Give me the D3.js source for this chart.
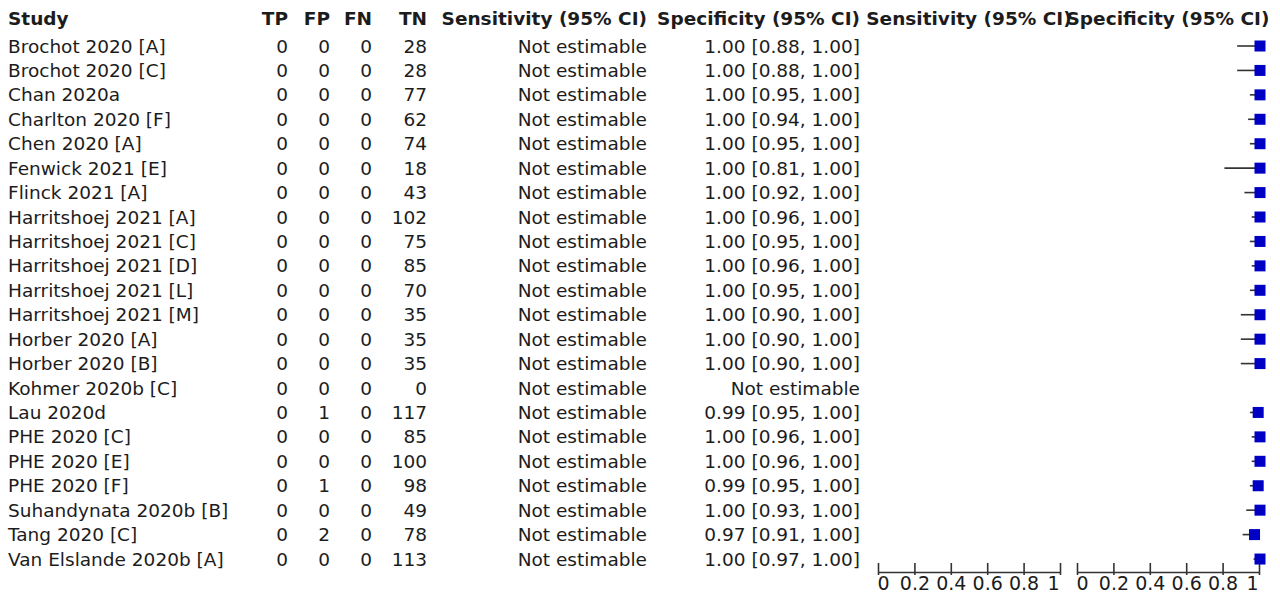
<!DOCTYPE html>
<html>
<head>
<meta charset="utf-8">
<script src="https://cdn.jsdelivr.net/npm/d3@7"></script>
<style>
  html, body { margin: 0; padding: 0; background: #fff; }
  svg { display: block; font-family: "DejaVu Sans", Verdana, sans-serif; }
</style>
</head>
<body>
<svg id="chart" width="1280" height="594"></svg>
<script>
const studies = ["Brochot 2020 [A]", "Brochot 2020 [C]", "Chan 2020a", "Charlton 2020 [F]", "Chen 2020 [A]",
  "Fenwick 2021 [E]", "Flinck 2021 [A]", "Harritshoej 2021 [A]", "Harritshoej 2021 [C]", "Harritshoej 2021 [D]",
  "Harritshoej 2021 [L]", "Harritshoej 2021 [M]", "Horber 2020 [A]", "Horber 2020 [B]", "Kohmer 2020b [C]",
  "Lau 2020d", "PHE 2020 [C]", "PHE 2020 [E]", "PHE 2020 [F]", "Suhandynata 2020b [B]", "Tang 2020 [C]",
  "Van Elslande 2020b [A]"];
const TP = [0,0,0,0,0,0,0,0,0,0,0,0,0,0,0,0,0,0,0,0,0,0];
const FP = [0,0,0,0,0,0,0,0,0,0,0,0,0,0,0,1,0,0,1,0,2,0];
const FN = [0,0,0,0,0,0,0,0,0,0,0,0,0,0,0,0,0,0,0,0,0,0];
const TN = [28,28,77,62,74,18,43,102,75,85,70,35,35,35,0,117,85,100,98,49,78,113];
const specEst = [1.00,1.00,1.00,1.00,1.00,1.00,1.00,1.00,1.00,1.00,1.00,1.00,1.00,1.00,null,0.99,1.00,1.00,0.99,1.00,0.97,1.00];
const specLo  = [0.88,0.88,0.95,0.94,0.95,0.81,0.92,0.96,0.95,0.96,0.95,0.90,0.90,0.90,null,0.95,0.96,0.96,0.95,0.93,0.91,0.97];
const specHi  = [1.00,1.00,1.00,1.00,1.00,1.00,1.00,1.00,1.00,1.00,1.00,1.00,1.00,1.00,null,1.00,1.00,1.00,1.00,1.00,1.00,1.00];
const sensEst = studies.map(() => null);
const tickValues = [0, 0.2, 0.4, 0.6, 0.8, 1];
const tickLabels = ["0", "0.2", "0.4", "0.6", "0.8", "1"];
const headers = ["Study", "TP", "FP", "FN", "TN", "Sensitivity (95% CI)", "Specificity (95% CI)"];
const plotHeaders = ["Sensitivity (95% CI)", "Specificity (95% CI)"];

const svg = d3.select("#chart");
const textColor = "#1c1c1c";
const fs = "18.5px";

const y = d3.scalePoint().domain(d3.range(studies.length)).range([46, 46 + 24.43 * (studies.length - 1)]);
const baseOff = 6.6;

const cols = [
  {x: 8, anchor: "start", get: i => studies[i]},
  {x: 288, anchor: "end", get: i => TP[i]},
  {x: 330, anchor: "end", get: i => FP[i]},
  {x: 372, anchor: "end", get: i => FN[i]},
  {x: 427, anchor: "end", get: i => TN[i]},
  {x: 647, anchor: "end", get: i => sensEst[i] == null ? "Not estimable" : sensEst[i].toFixed(2)},
  {x: 860, anchor: "end", get: i => specEst[i] == null ? "Not estimable" :
      `${specEst[i].toFixed(2)} [${specLo[i].toFixed(2)}, ${specHi[i].toFixed(2)}]`}
];

const headerY = 25;
svg.append("g").selectAll("text").data(cols).join("text")
  .attr("x", d => d.x).attr("y", headerY)
  .attr("text-anchor", d => d.anchor)
  .attr("font-size", fs).attr("font-weight", "bold").attr("fill", textColor)
  .text((d, i) => headers[i]);

cols.forEach(c => {
  svg.append("g").selectAll("text").data(d3.range(studies.length)).join("text")
    .attr("x", c.x).attr("y", i => y(i) + baseOff)
    .attr("text-anchor", c.anchor)
    .attr("font-size", fs).attr("fill", textColor)
    .text(i => c.get(i));
});

const xSens = d3.scaleLinear().domain([0, 1]).range([878, 1060]);
const xSpec = d3.scaleLinear().domain([0, 1]).range([1077, 1259]);
const axisY = 572;

[xSens, xSpec].forEach((xs, k) => {
  svg.append("text")
    .attr("x", (xs.range()[0] + xs.range()[1]) / 2).attr("y", headerY)
    .attr("text-anchor", "middle")
    .attr("font-size", fs).attr("font-weight", "bold").attr("fill", textColor)
    .text(plotHeaders[k]);

  const ax = svg.append("g").attr("transform", `translate(0,${axisY})`)
    .call(d3.axisBottom(xs).tickValues(tickValues).tickFormat((d, i) => tickLabels[i]).tickSizeOuter(0));
  ax.select(".domain").attr("stroke", "#333").attr("stroke-width", 1.6);
  ax.selectAll(".tick line").attr("y1", -9).attr("y2", 3).attr("stroke", "#333").attr("stroke-width", 1.6);
  ax.selectAll(".tick text")
    .attr("y", 17.5).attr("dy", null)
    .attr("font-family", "DejaVu Sans, sans-serif").attr("font-size", "19px").attr("fill", textColor)
    .attr("text-anchor", (d, i) => i === 0 ? "start" : (i === tickValues.length - 1 ? "end" : "middle"))
    .attr("x", (d, i) => i === 0 ? -1 : (i === tickValues.length - 1 ? -1 : 0));
});

const idx = d3.range(studies.length).filter(i => specEst[i] != null);
svg.append("g").selectAll("line").data(idx).join("line")
  .attr("x1", i => xSpec(specLo[i])).attr("x2", i => xSpec(specHi[i]))
  .attr("y1", i => y(i)).attr("y2", i => y(i))
  .attr("stroke", "#333").attr("stroke-width", 1.6);
const sq = 11;
svg.append("g").selectAll("rect").data(idx).join("rect")
  .attr("x", i => xSpec(specEst[i]) - sq / 2 + 1).attr("y", i => y(i) - sq / 2)
  .attr("width", sq).attr("height", sq)
  .attr("fill", "#0000c4");
</script>
</body>
</html>
